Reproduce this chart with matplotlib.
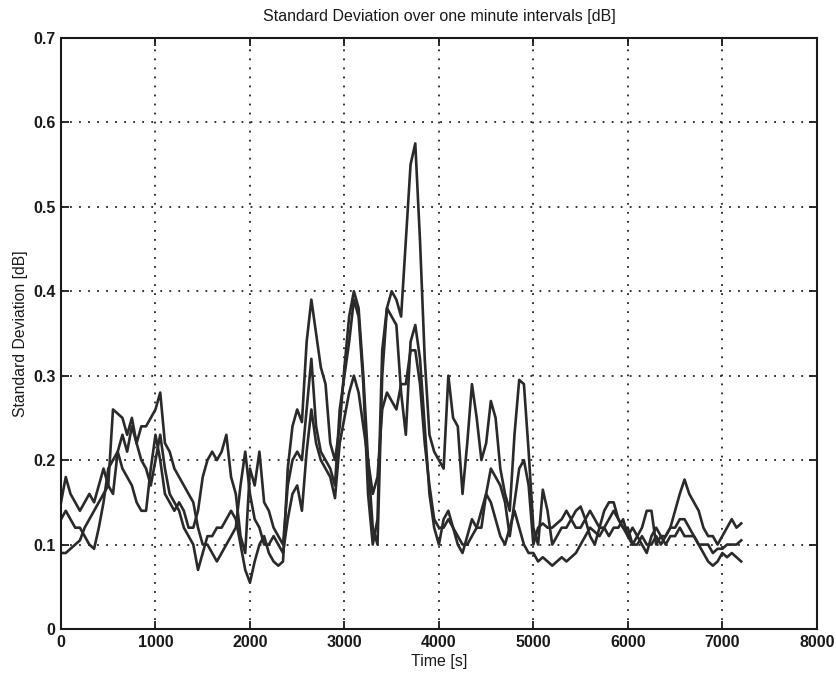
import matplotlib
matplotlib.use("Agg")
import matplotlib.pyplot as plt

plt.rcParams['font.family'] = ['Liberation Sans', 'DejaVu Sans']

# sample times [s] shared by the three records
time_s = list(range(0, 7201, 50))

# standard deviation over one-minute windows [dB], record 1
sd_a = [0.15, 0.18, 0.16, 0.15, 0.14, 0.15, 0.16, 0.15, 0.17, 0.19,
        0.17, 0.16, 0.21, 0.23, 0.21, 0.24, 0.22, 0.20, 0.19, 0.17,
        0.20, 0.23, 0.19, 0.16, 0.15, 0.14, 0.12, 0.11, 0.10, 0.07,
        0.09, 0.11, 0.11, 0.12, 0.12, 0.13, 0.14, 0.13, 0.10, 0.07,
        0.055, 0.08, 0.10, 0.11, 0.09, 0.08, 0.075, 0.08, 0.19, 0.24,
        0.26, 0.245, 0.34, 0.39, 0.35, 0.31, 0.29, 0.22, 0.20, 0.24,
        0.31, 0.37, 0.40, 0.38, 0.30, 0.20, 0.12, 0.10, 0.30, 0.38,
        0.40, 0.39, 0.37, 0.46, 0.55, 0.575, 0.46, 0.32, 0.23, 0.21,
        0.20, 0.19, 0.30, 0.25, 0.24, 0.16, 0.22, 0.29, 0.25, 0.20,
        0.22, 0.27, 0.25, 0.19, 0.16, 0.14, 0.23, 0.295, 0.29, 0.21,
        0.12, 0.10, 0.165, 0.14, 0.10, 0.11, 0.12, 0.12, 0.13, 0.14,
        0.145, 0.13, 0.11, 0.10, 0.12, 0.14, 0.15, 0.15, 0.13, 0.12,
        0.12, 0.10, 0.11, 0.12, 0.14, 0.14, 0.10, 0.11, 0.11, 0.12,
        0.14, 0.16, 0.177, 0.16, 0.15, 0.14, 0.12, 0.11, 0.11, 0.10,
        0.11, 0.12, 0.13, 0.12, 0.125]

# record 2
sd_b = [0.13, 0.14, 0.13, 0.12, 0.12, 0.11, 0.10, 0.095, 0.12, 0.15,
        0.19, 0.20, 0.21, 0.19, 0.18, 0.17, 0.15, 0.14, 0.14, 0.19,
        0.23, 0.20, 0.16, 0.15, 0.14, 0.15, 0.14, 0.12, 0.12, 0.14,
        0.18, 0.20, 0.21, 0.20, 0.21, 0.23, 0.18, 0.16, 0.11, 0.09,
        0.19, 0.17, 0.21, 0.15, 0.14, 0.12, 0.11, 0.10, 0.17, 0.20,
        0.21, 0.20, 0.26, 0.32, 0.24, 0.21, 0.20, 0.19, 0.17, 0.26,
        0.30, 0.34, 0.39, 0.37, 0.29, 0.16, 0.10, 0.13, 0.33, 0.38,
        0.37, 0.36, 0.28, 0.23, 0.34, 0.36, 0.32, 0.24, 0.16, 0.12,
        0.10, 0.13, 0.14, 0.12, 0.10, 0.09, 0.11, 0.13, 0.12, 0.12,
        0.16, 0.19, 0.18, 0.17, 0.15, 0.11, 0.15, 0.19, 0.20, 0.17,
        0.10, 0.12, 0.125, 0.12, 0.12, 0.125, 0.13, 0.14, 0.13, 0.12,
        0.12, 0.13, 0.14, 0.13, 0.12, 0.12, 0.11, 0.12, 0.12, 0.13,
        0.11, 0.10, 0.10, 0.11, 0.10, 0.10, 0.11, 0.10, 0.11, 0.12,
        0.12, 0.13, 0.13, 0.12, 0.11, 0.10, 0.09, 0.08, 0.075, 0.08,
        0.09, 0.085, 0.09, 0.085, 0.08]

# record 3
sd_c = [0.09, 0.09, 0.095, 0.10, 0.105, 0.12, 0.13, 0.14, 0.15, 0.16,
        0.17, 0.26, 0.255, 0.25, 0.23, 0.25, 0.22, 0.24, 0.24, 0.25,
        0.26, 0.28, 0.22, 0.21, 0.19, 0.18, 0.17, 0.16, 0.15, 0.12,
        0.10, 0.10, 0.09, 0.08, 0.09, 0.10, 0.11, 0.12, 0.17, 0.21,
        0.16, 0.13, 0.12, 0.10, 0.10, 0.11, 0.10, 0.09, 0.13, 0.16,
        0.17, 0.14, 0.21, 0.26, 0.22, 0.20, 0.19, 0.18, 0.155, 0.22,
        0.25, 0.28, 0.30, 0.28, 0.24, 0.20, 0.16, 0.18, 0.26, 0.28,
        0.27, 0.26, 0.29, 0.29, 0.33, 0.33, 0.29, 0.22, 0.17, 0.13,
        0.12, 0.12, 0.13, 0.12, 0.11, 0.10, 0.10, 0.11, 0.12, 0.14,
        0.16, 0.15, 0.13, 0.11, 0.10, 0.12, 0.14, 0.12, 0.10, 0.09,
        0.09, 0.08, 0.085, 0.08, 0.075, 0.08, 0.085, 0.08, 0.085, 0.09,
        0.10, 0.11, 0.12, 0.115, 0.11, 0.12, 0.13, 0.14, 0.13, 0.12,
        0.11, 0.12, 0.11, 0.10, 0.09, 0.11, 0.12, 0.11, 0.10, 0.11,
        0.11, 0.12, 0.11, 0.11, 0.11, 0.10, 0.10, 0.10, 0.09, 0.095,
        0.095, 0.10, 0.10, 0.10, 0.105]

x_ticks = [0, 1000, 2000, 3000, 4000, 5000, 6000, 7000, 8000]
y_ticks = [0, 0.1, 0.2, 0.3, 0.4, 0.5, 0.6, 0.7]
y_tick_labels = ['0', '0.1', '0.2', '0.3', '0.4', '0.5', '0.6', '0.7']

fig = plt.figure(figsize=(8.36, 6.76), dpi=100)
ax = fig.add_axes([0.073, 0.0695, 0.904, 0.8745])

line_color = '#2a2a2a'
for series in (sd_a, sd_b, sd_c):
    ax.plot(time_s, series, color=line_color, linewidth=1.9)

ax.set_xlim(0, 8000)
ax.set_ylim(0, 0.7)
ax.set_xticks(x_ticks)
ax.set_xticklabels([str(v) for v in x_ticks])
ax.set_yticks(y_ticks)
ax.set_yticklabels(y_tick_labels)

ax.grid(True, color='#222222', linestyle=(0, (1, 4)), linewidth=1.3)
ax.tick_params(direction='in', length=6, width=1.3, top=True, right=True,
               labelsize=11.5, colors='#1a1a1a', pad=4)
for lbl in ax.get_xticklabels() + ax.get_yticklabels():
    lbl.set_fontweight('bold')
for spine in ax.spines.values():
    spine.set_linewidth(1.5)
    spine.set_color('#1a1a1a')

ax.set_title('Standard Deviation over one minute intervals [dB]', fontsize=11.5,
             color='#1a1a1a', pad=12)
ax.set_xlabel('Time [s]', fontsize=11.5, color='#1a1a1a', labelpad=3)
ax.set_ylabel('Standard Deviation [dB]', fontsize=11.3, color='#1a1a1a', labelpad=4)

fig.savefig('out.png', dpi=100, facecolor='white')
